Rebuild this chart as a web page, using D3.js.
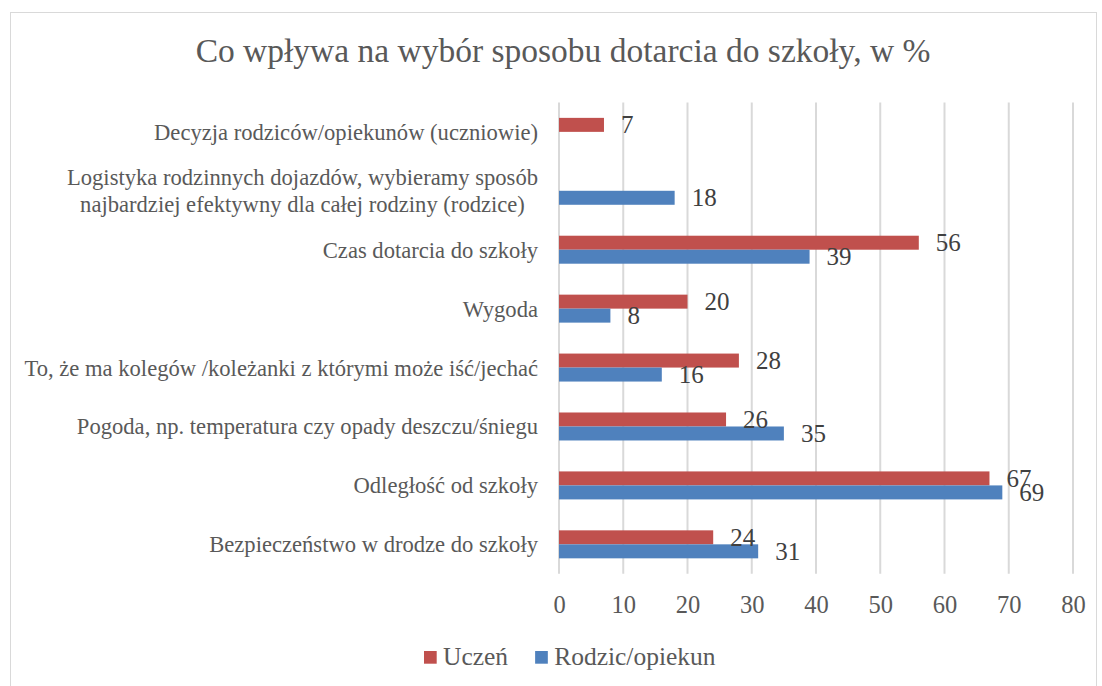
<!DOCTYPE html>
<html>
<head>
<meta charset="utf-8">
<script src="https://cdn.jsdelivr.net/npm/d3@7"></script>
<style>
  html, body { margin: 0; padding: 0; background: #fff; }
  svg { display: block; font-family: "Liberation Serif", "DejaVu Serif", serif; }
</style>
</head>
<body>
<div id="chart"></div>
<script>
// data, top to bottom as in the reference
const categories = [
  ['Decyzja rodziców/opiekunów (uczniowie)'],
  ['Logistyka rodzinnych dojazdów, wybieramy sposób', 'najbardziej efektywny dla całej rodziny (rodzice)'],
  ['Czas dotarcia do szkoły'],
  ['Wygoda'],
  ['To, że ma kolegów /koleżanki z którymi może iść/jechać'],
  ['Pogoda, np. temperatura czy opady deszczu/śniegu'],
  ['Odległość od szkoły'],
  ['Bezpieczeństwo w drodze do szkoły']
];
const seriesNames = ['Uczeń', 'Rodzic/opiekun'];
const uczen = [7, null, 56, 20, 28, 26, 67, 24];
const rodzic = [null, 18, 39, 8, 16, 35, 69, 31];
const xTicks = [0, 10, 20, 30, 40, 50, 60, 70, 80];
const colors = ['#C0504D', '#4F81BD'];

const W = 1102, H = 686;
const plot = { left: 559, right: 1073, top: 102.4, bottom: 573.8 };

const svg = d3.select('#chart').append('svg')
  .attr('width', W).attr('height', H);

// chart border
svg.append('rect')
  .attr('x', 10.5).attr('y', 12.5)
  .attr('width', 1086).attr('height', 700)
  .attr('fill', 'none').attr('stroke', '#D9D9D9').attr('stroke-width', 1);

svg.append('text')
  .attr('x', 563).attr('y', 62)
  .attr('text-anchor', 'middle')
  .attr('font-size', 33.5).attr('fill', '#595959')
  .text('Co wpływa na wybór sposobu dotarcia do szkoły, w %');

const x = d3.scaleLinear().domain([0, 80]).range([plot.left, plot.right]);
const y = d3.scaleBand()
  .domain(d3.range(categories.length))
  .range([plot.top, plot.bottom])
  .paddingInner(0.525).paddingOuter(0.2625);
const ySub = d3.scaleBand().domain([0, 1]).range([0, y.bandwidth()]);

// gridlines
svg.append('g').selectAll('line')
  .data(xTicks).join('line')
  .attr('x1', d => x(d)).attr('x2', d => x(d))
  .attr('y1', plot.top).attr('y2', plot.bottom)
  .attr('stroke', '#D9D9D9').attr('stroke-width', 2);

// x axis tick labels
const xAxis = svg.append('g')
  .attr('transform', `translate(0,${plot.bottom})`)
  .call(d3.axisBottom(x).tickValues(xTicks).tickSize(0).tickPadding(0));
xAxis.select('.domain').remove();
xAxis.selectAll('text')
  .attr('y', 39.5).attr('dy', null)
  .attr('font-size', 24.5).attr('font-family', 'Liberation Serif').attr('fill', '#595959');

// category labels
const catG = svg.append('g');
categories.forEach((lines, i) => {
  const cy = y(i) + y.bandwidth() / 2;
  const t = catG.append('text')
    .attr('font-size', 22.6).attr('fill', '#595959');
  const lh = 27;
  lines.forEach((ln, j) => {
    t.append('tspan')
      .attr('y', cy + 8 + (j - (lines.length - 1) / 2) * lh)
      .text(ln);
  });
  let maxW = 0;
  t.selectAll('tspan').each(function () {
    maxW = Math.max(maxW, this.getComputedTextLength());
  });
  const cx = 538 - maxW / 2;
  t.attr('text-anchor', 'middle').selectAll('tspan').attr('x', cx);
});

// bars
const rows = [];
[uczen, rodzic].forEach((vals, s) => {
  vals.forEach((v, i) => { if (v !== null) rows.push({ i, s, v }); });
});

svg.append('g').selectAll('rect')
  .data(rows).join('rect')
  .attr('x', x(0))
  .attr('y', d => y(d.i) + ySub(d.s))
  .attr('width', d => x(d.v) - x(0))
  .attr('height', ySub.bandwidth())
  .attr('fill', d => colors[d.s]);

svg.append('g').selectAll('text')
  .data(rows).join('text')
  .attr('x', d => x(d.v) + 17)
  .attr('y', d => y(d.i) + ySub(d.s) + ySub.bandwidth() / 2 + 8.5)
  .attr('font-size', 25).attr('fill', '#404040')
  .text(d => d.v);

// legend
const leg = svg.append('g');
let lx = 424;
seriesNames.forEach((name, s) => {
  leg.append('rect')
    .attr('x', lx).attr('y', 651)
    .attr('width', 12.7).attr('height', 12.7)
    .attr('fill', colors[s]);
  const t = leg.append('text')
    .attr('x', lx + 19).attr('y', 665)
    .attr('font-size', 25.5).attr('fill', '#595959')
    .text(name);
  lx += 19 + t.node().getComputedTextLength() + 27;
});
</script>
</body>
</html>
